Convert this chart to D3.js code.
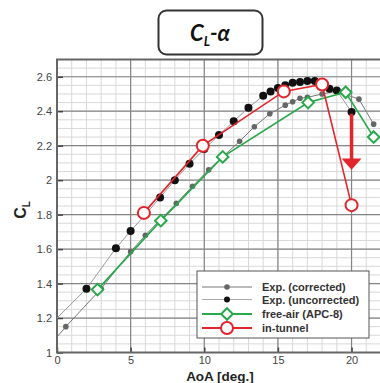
<!DOCTYPE html>
<html>
<head>
<meta charset="utf-8">
<script src="https://cdn.jsdelivr.net/npm/d3@7"></script>
<style>
  body { margin: 0; background: #fff; }
  text { font-family: "Liberation Sans", Arial, sans-serif; }
</style>
</head>
<body>
<script>
// Chart data (first points lie left of the axis and are clipped)
var corrAoA = [-2, 0.6, 3, 5, 6, 7, 8.1, 9.2, 10.3, 11.3, 12.4, 13.4, 14.45, 15.5, 16, 16.5, 17, 18, 19, 20.5, 21.5]
var corrCL  = [0.89, 1.15, 1.37, 1.585, 1.68, 1.77, 1.865, 1.965, 2.06, 2.14, 2.225, 2.31, 2.385, 2.435, 2.455, 2.475, 2.48, 2.5, 2.515, 2.47, 2.325]

var uncAoA = [-2, 2, 4, 5, 6, 7, 8, 9, 10, 11, 12, 13, 14, 14.5, 15, 15.5, 16, 16.5, 17, 17.5, 18, 18.5, 19, 20]
var uncCL  = [1.03, 1.37, 1.605, 1.705, 1.8, 1.9, 2.0, 2.095, 2.18, 2.262, 2.342, 2.42, 2.49, 2.515, 2.535, 2.55, 2.565, 2.57, 2.575, 2.575, 2.56, 2.53, 2.52, 2.395]

var freeAoA = [2.75, 7.05, 11.25, 17.05, 19.6, 21.5]
var freeCL  = [1.365, 1.765, 2.135, 2.45, 2.51, 2.25]

var tunAoA = [5.9, 9.9, 15.4, 18, 20]
var tunCL  = [1.81, 2.2, 2.515, 2.555, 1.855]

var xTicks = [0, 5, 10, 15, 20]
var yTicks = [1, 1.2, 1.4, 1.6, 1.8, 2, 2.2, 2.4, 2.6]
var legendNames = ["Exp. (corrected)", "Exp. (uncorrected)", "free-air (APC-8)", "in-tunnel"]

var green = "#27a84a", red = "#e2252b"

// Set the dimensions of the canvas / graph
var margin = {top: 59.5, left: 57},
    width = 324,
    height = 293

var svg = d3.select("body").append("svg")
    .attr("width", 380)
    .attr("height", 383)

// Title box
svg.append("rect")
    .attr("x", 158.5).attr("y", 10.5)
    .attr("width", 104).attr("height", 44)
    .attr("rx", 8)
    .attr("fill", "#fff").attr("stroke", "#333").attr("stroke-width", 2)
var title = svg.append("text")
    .attr("x", 210).attr("y", 41)
    .attr("text-anchor", "middle")
    .style("font-family", "Lato, 'Open Sans', sans-serif")
    .style("font-weight", "bold").style("font-style", "italic")
    .style("font-size", "22px").attr("fill", "#111")
title.append("tspan").text("C")
title.append("tspan").attr("dy", 5).style("font-size", "13px").text("L")
title.append("tspan").attr("dy", -5).text("-α")

var g = svg.append("g")
    .attr("transform", "translate(" + margin.left + "," + margin.top + ")")

// Set the ranges
var x = d3.scaleLinear().domain([0, 22]).range([0, width])
var y = d3.scaleLinear().domain([1, 2.7]).range([height, 0])

g.append("clipPath").attr("id", "clip")
  .append("rect").attr("width", width).attr("height", height)

// Grid: minor then major
var grid = g.append("g").attr("clip-path", "url(#clip)")
grid.selectAll(".xminor").data(d3.range(0, 23, 1))
  .enter().append("line")
    .attr("x1", d => x(d)).attr("x2", d => x(d))
    .attr("y1", 0).attr("y2", height)
    .attr("stroke", "#d8d8d8").attr("stroke-width", 1)
grid.selectAll(".yminor").data(d3.range(1, 2.71, 0.05))
  .enter().append("line")
    .attr("x1", 0).attr("x2", width)
    .attr("y1", d => y(d)).attr("y2", d => y(d))
    .attr("stroke", "#d8d8d8").attr("stroke-width", 1)
grid.selectAll(".xmajor").data(xTicks)
  .enter().append("line")
    .attr("x1", d => x(d)).attr("x2", d => x(d))
    .attr("y1", 0).attr("y2", height)
    .attr("stroke", "#858585").attr("stroke-width", 1.2)
grid.selectAll(".ymajor").data(yTicks)
  .enter().append("line")
    .attr("x1", 0).attr("x2", width)
    .attr("y1", d => y(d)).attr("y2", d => y(d))
    .attr("stroke", "#858585").attr("stroke-width", 1.2)

// Axes (ticks point inside)
var xAxis = d3.axisBottom(x).tickValues(xTicks).tickSize(-5).tickPadding(4).tickFormat(d3.format("d"))
var yAxis = d3.axisLeft(y).tickValues(yTicks).tickSize(-6).tickPadding(5).tickFormat(d => d3.format("")(+d.toFixed(1)))

var xg = g.append("g").attr("transform", "translate(0," + height + ")").call(xAxis)
var yg = g.append("g").call(yAxis)
;[xg, yg].forEach(function(a) {
  a.select(".domain").remove()
  a.selectAll("line").attr("stroke", "#444").attr("stroke-width", 1.5)
  a.selectAll("text").attr("fill", "#444").style("font-size", "11px")
})

// Frame
g.append("rect")
    .attr("width", width).attr("height", height)
    .attr("fill", "none").attr("stroke", "#666").attr("stroke-width", 2)

// Axis titles
svg.append("text")
    .attr("x", 220).attr("y", 381)
    .attr("text-anchor", "middle")
    .style("font-weight", "bold").style("font-size", "13.5px")
    .attr("fill", "#222")
    .text("AoA [deg.]")
var yt = svg.append("text")
    .attr("transform", "translate(26,210) rotate(-90)")
    .attr("text-anchor", "middle")
    .style("font-weight", "bold").style("font-size", "16px")
    .attr("fill", "#222")
yt.append("tspan").text("C")
yt.append("tspan").attr("dy", 4).style("font-size", "10px").text("L")

// Series
var plot = g.append("g").attr("clip-path", "url(#clip)")
var line = d3.line().x(d => x(d[0])).y(d => y(d[1]))
var corr = d3.zip(corrAoA, corrCL),
    unc = d3.zip(uncAoA, uncCL),
    free = d3.zip(freeAoA, freeCL),
    tun = d3.zip(tunAoA, tunCL)

plot.append("path").datum(corr).attr("d", line)
    .attr("fill", "none").attr("stroke", "#777").attr("stroke-width", 1)
plot.append("path").datum(unc).attr("d", line)
    .attr("fill", "none").attr("stroke", "#999").attr("stroke-width", 1)
plot.selectAll(".cdot").data(corr).enter().append("circle")
    .attr("cx", d => x(d[0])).attr("cy", d => y(d[1])).attr("r", 2.8)
    .attr("fill", "#666")
plot.selectAll(".udot").data(unc).enter().append("circle")
    .attr("cx", d => x(d[0])).attr("cy", d => y(d[1])).attr("r", 4)
    .attr("fill", "#111")

var diamond = d3.symbol(d3.symbolDiamond2, 85)

plot.append("path").datum(free).attr("d", line)
    .attr("fill", "none").attr("stroke", green).attr("stroke-width", 1.6)
plot.selectAll(".fdia").data(free).enter().append("path")
    .attr("d", diamond)
    .attr("transform", d => "translate(" + x(d[0]) + "," + y(d[1]) + ")")
    .attr("fill", "#fff").attr("stroke", green).attr("stroke-width", 2)

plot.append("path").datum(tun).attr("d", line)
    .attr("fill", "none").attr("stroke", red).attr("stroke-width", 1.6)
plot.selectAll(".tcir").data(tun).enter().append("circle")
    .attr("cx", d => x(d[0])).attr("cy", d => y(d[1])).attr("r", 6)
    .attr("fill", "#fff").attr("stroke", red).attr("stroke-width", 2)

// Red arrow (drop at 20 deg)
plot.append("line")
    .attr("x1", x(20)).attr("x2", x(20))
    .attr("y1", y(2.385)).attr("y2", y(2.12))
    .attr("stroke", red).attr("stroke-width", 3.5)
plot.append("path")
    .attr("d", "M" + (x(20) - 10) + "," + y(2.125) + "L" + (x(20) + 10) + "," + y(2.125) + "L" + x(20) + "," + y(2.06) + "Z")
    .attr("fill", red)

// Legend
var lg = svg.append("g").attr("transform", "translate(197,271)")
lg.append("rect")
    .attr("width", 172).attr("height", 67)
    .attr("fill", "#fff").attr("stroke", "#555").attr("stroke-width", 1)
var rowY = [16, 28.5, 43, 57]
legendNames.forEach(function(name, i) {
  var ry = rowY[i]
  var col = i == 0 ? "#777" : i == 1 ? "#aaa" : i == 2 ? green : red
  lg.append("line").attr("x1", 5).attr("x2", 55).attr("y1", ry).attr("y2", ry)
      .attr("stroke", col).attr("stroke-width", i >= 2 ? 1.8 : 1)
  if (i == 0) lg.append("circle").attr("cx", 30).attr("cy", ry).attr("r", 2.8).attr("fill", "#666")
  if (i == 1) lg.append("circle").attr("cx", 30).attr("cy", ry).attr("r", 3).attr("fill", "#111")
  if (i == 2) lg.append("path").attr("d", diamond)
      .attr("transform", "translate(30," + ry + ")")
      .attr("fill", "#fff").attr("stroke", green).attr("stroke-width", 2)
  if (i == 3) lg.append("circle").attr("cx", 30).attr("cy", ry).attr("r", 6)
      .attr("fill", "#fff").attr("stroke", red).attr("stroke-width", 2)
  lg.append("text").attr("x", 65).attr("y", ry + 4)
      .style("font-size", "11px").style("font-weight", "bold")
      .attr("fill", "#333").text(name)
})
</script>
</body>
</html>
